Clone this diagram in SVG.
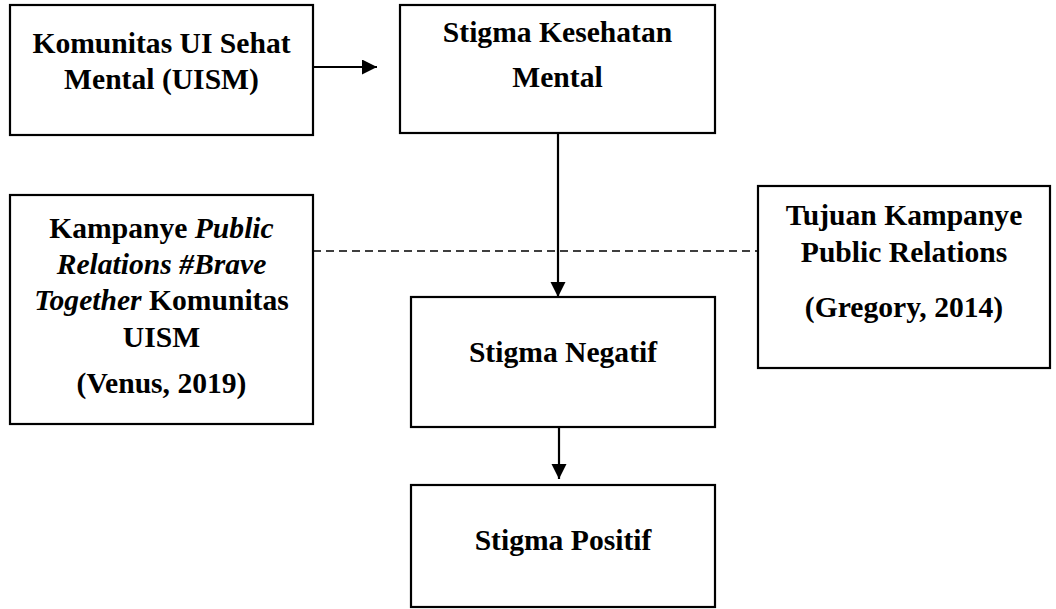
<svg xmlns="http://www.w3.org/2000/svg" width="1056" height="609" viewBox="0 0 1056 609">
<style>
.box{fill:#fff;stroke:#000;stroke-width:2.2}
.t{font-family:"Liberation Serif","Times New Roman",serif;font-weight:bold;font-size:29.6px;fill:#000;text-anchor:middle}
.i{font-style:italic}
.c{stroke:#000;stroke-width:2.2;fill:none}
.d{stroke:#000;stroke-width:1.6;fill:none;stroke-dasharray:8 5}
</style>
<defs>
<marker id="ah" markerUnits="userSpaceOnUse" markerWidth="17" markerHeight="17" refX="15" refY="7.5" orient="auto">
<path d="M0,0 L15,7.5 L0,15 Z" fill="#000"/>
</marker>
</defs>
<rect width="1056" height="609" fill="#fff"/>
<g id="connectors">
<line class="c" x1="313" y1="67" x2="377" y2="67" marker-end="url(#ah)"/>
<line class="c" x1="558" y1="133" x2="558" y2="297" marker-end="url(#ah)"/>
<line class="c" x1="559" y1="427" x2="559" y2="479" marker-end="url(#ah)"/>
<line class="d" x1="313" y1="251" x2="758" y2="251"/>
</g>
<g id="node-komunitas">
<rect class="box" x="10" y="5" width="303" height="130"/>
<text class="t" x="161.5" y="53">Komunitas UI Sehat</text>
<text class="t" x="161.5" y="89">Mental (UISM)</text>
</g>
<g id="node-stigma-kesehatan">
<rect class="box" x="400" y="5" width="315" height="128"/>
<text class="t" x="557.5" y="42">Stigma Kesehatan</text>
<text class="t" x="557.5" y="87">Mental</text>
</g>
<g id="node-kampanye">
<rect class="box" x="10" y="195" width="303" height="229"/>
<text class="t" x="161.5" y="238">Kampanye <tspan class="i">Public</tspan></text>
<text class="t i" x="161.5" y="274">Relations #Brave</text>
<text class="t" x="161.5" y="310"><tspan class="i">Together</tspan> Komunitas</text>
<text class="t" x="161.5" y="347">UISM</text>
<text class="t" x="161.5" y="393">(Venus, 2019)</text>
</g>
<g id="node-tujuan">
<rect class="box" x="758" y="186" width="292" height="182"/>
<text class="t" x="904" y="225">Tujuan Kampanye</text>
<text class="t" x="904" y="262">Public Relations</text>
<text class="t" x="904" y="317">(Gregory, 2014)</text>
</g>
<g id="node-negatif">
<rect class="box" x="411" y="297" width="304" height="130"/>
<text class="t" x="563" y="362">Stigma Negatif</text>
</g>
<g id="node-positif">
<rect class="box" x="411" y="485" width="304" height="122"/>
<text class="t" x="563" y="550">Stigma Positif</text>
</g>
</svg>
